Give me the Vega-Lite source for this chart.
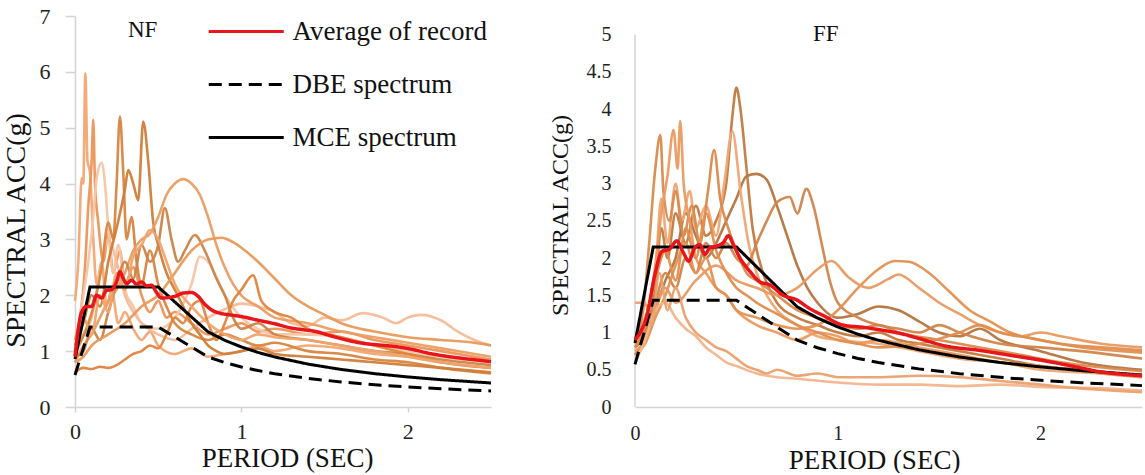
{
"$schema": "https://vega.github.io/schema/vega-lite/v6.json",
"padding": {"left": 2, "top": 5, "right": 0, "bottom": 0},
"background": "white",
"config": {"view": {"stroke": null}, "font": "Liberation Serif", "axis": {"grid": false, "labelFont": "Liberation Serif", "titleFont": "Liberation Serif", "titleFontWeight": "normal", "labelColor": "#222", "titleColor": "#111", "domainColor": "#d4d4d4", "domainWidth": 1.5, "tickColor": "#d4d4d4", "tickWidth": 1.5, "labelFlush": false}, "legend": {"labelFont": "Liberation Serif"}, "title": {"font": "Liberation Serif", "fontWeight": "normal", "fontSize": 23, "color": "#111"}},
"bounds": "flush",
"spacing": 144,
"resolve": {"scale": {"color": "independent", "strokeDash": "independent", "stroke": "independent"}, "legend": {"color": "independent", "strokeDash": "independent", "stroke": "independent"}},
"datasets": {
"nf": [
{"r":"n1","t":0,"v":1.9},{"r":"n1","t":0.02,"v":2.6},{"r":"n1","t":0.04,"v":4.1},{"r":"n1","t":0.05,"v":4.0},{"r":"n1","t":0.062,"v":5.97},{"r":"n1","t":0.075,"v":4.4},{"r":"n1","t":0.09,"v":4.2},{"r":"n1","t":0.11,"v":3.0},{"r":"n1","t":0.13,"v":2.2},{"r":"n1","t":0.16,"v":2.6},{"r":"n1","t":0.19,"v":1.8},{"r":"n1","t":0.22,"v":2.1},{"r":"n1","t":0.26,"v":1.5},{"r":"n1","t":0.3,"v":1.7},{"r":"n1","t":0.35,"v":1.4},{"r":"n1","t":0.4,"v":1.2},{"r":"n1","t":0.45,"v":1.35},{"r":"n1","t":0.5,"v":1.1},{"r":"n1","t":0.6,"v":0.95},{"r":"n1","t":0.7,"v":1.05},{"r":"n1","t":0.8,"v":0.9},{"r":"n1","t":0.9,"v":0.95},{"r":"n1","t":1.0,"v":1.0},{"r":"n1","t":1.1,"v":1.1},{"r":"n1","t":1.2,"v":1.0},{"r":"n1","t":1.4,"v":1.1},{"r":"n1","t":1.6,"v":1.05},{"r":"n1","t":1.8,"v":0.95},{"r":"n1","t":2.0,"v":0.9},{"r":"n1","t":2.2,"v":0.8},{"r":"n1","t":2.5,"v":0.7},
{"r":"n2","t":0,"v":1.2},{"r":"n2","t":0.03,"v":1.6},{"r":"n2","t":0.06,"v":2.5},{"r":"n2","t":0.08,"v":3.6},{"r":"n2","t":0.1,"v":4.4},{"r":"n2","t":0.11,"v":5.14},{"r":"n2","t":0.12,"v":4.0},{"r":"n2","t":0.14,"v":3.3},{"r":"n2","t":0.17,"v":2.6},{"r":"n2","t":0.2,"v":3.1},{"r":"n2","t":0.23,"v":2.4},{"r":"n2","t":0.27,"v":2.8},{"r":"n2","t":0.3,"v":2.2},{"r":"n2","t":0.35,"v":2.5},{"r":"n2","t":0.4,"v":2.0},{"r":"n2","t":0.45,"v":1.7},{"r":"n2","t":0.5,"v":1.9},{"r":"n2","t":0.55,"v":1.6},{"r":"n2","t":0.6,"v":1.7},{"r":"n2","t":0.7,"v":1.5},{"r":"n2","t":0.8,"v":1.3},{"r":"n2","t":0.9,"v":1.4},{"r":"n2","t":1.0,"v":1.5},{"r":"n2","t":1.1,"v":1.35},{"r":"n2","t":1.2,"v":1.4},{"r":"n2","t":1.4,"v":1.3},{"r":"n2","t":1.6,"v":1.35},{"r":"n2","t":1.8,"v":1.2},{"r":"n2","t":2.0,"v":1.1},{"r":"n2","t":2.2,"v":1.0},{"r":"n2","t":2.5,"v":0.85},
{"r":"n3","t":0,"v":1.0},{"r":"n3","t":0.04,"v":1.8},{"r":"n3","t":0.08,"v":2.6},{"r":"n3","t":0.11,"v":3.4},{"r":"n3","t":0.13,"v":4.1},{"r":"n3","t":0.16,"v":4.37},{"r":"n3","t":0.18,"v":4.0},{"r":"n3","t":0.2,"v":3.2},{"r":"n3","t":0.23,"v":2.4},{"r":"n3","t":0.26,"v":2.9},{"r":"n3","t":0.3,"v":2.1},{"r":"n3","t":0.35,"v":1.8},{"r":"n3","t":0.4,"v":1.5},{"r":"n3","t":0.5,"v":1.4},{"r":"n3","t":0.6,"v":1.6},{"r":"n3","t":0.7,"v":2.2},{"r":"n3","t":0.75,"v":2.69},{"r":"n3","t":0.8,"v":2.6},{"r":"n3","t":0.9,"v":2.0},{"r":"n3","t":1.0,"v":1.6},{"r":"n3","t":1.1,"v":1.4},{"r":"n3","t":1.2,"v":1.3},{"r":"n3","t":1.4,"v":1.3},{"r":"n3","t":1.6,"v":1.25},{"r":"n3","t":1.8,"v":1.1},{"r":"n3","t":2.0,"v":1.0},{"r":"n3","t":2.2,"v":0.9},{"r":"n3","t":2.5,"v":0.8},
{"r":"n4","t":0,"v":0.9},{"r":"n4","t":0.05,"v":1.3},{"r":"n4","t":0.1,"v":1.6},{"r":"n4","t":0.15,"v":2.4},{"r":"n4","t":0.2,"v":3.0},{"r":"n4","t":0.25,"v":2.6},{"r":"n4","t":0.3,"v":2.0},{"r":"n4","t":0.35,"v":1.7},{"r":"n4","t":0.4,"v":1.5},{"r":"n4","t":0.5,"v":1.3},{"r":"n4","t":0.6,"v":1.2},{"r":"n4","t":0.7,"v":1.4},{"r":"n4","t":0.8,"v":1.6},{"r":"n4","t":0.9,"v":1.75},{"r":"n4","t":1.0,"v":1.85},{"r":"n4","t":1.1,"v":1.8},{"r":"n4","t":1.2,"v":1.7},{"r":"n4","t":1.3,"v":1.5},{"r":"n4","t":1.4,"v":1.45},{"r":"n4","t":1.5,"v":1.6},{"r":"n4","t":1.6,"v":1.55},{"r":"n4","t":1.73,"v":1.68},{"r":"n4","t":1.85,"v":1.6},{"r":"n4","t":1.93,"v":1.5},{"r":"n4","t":2.0,"v":1.6},{"r":"n4","t":2.08,"v":1.65},{"r":"n4","t":2.2,"v":1.55},{"r":"n4","t":2.3,"v":1.35},{"r":"n4","t":2.4,"v":1.2},{"r":"n4","t":2.5,"v":1.1},
{"r":"n5","t":0,"v":1.0},{"r":"n5","t":0.04,"v":1.2},{"r":"n5","t":0.08,"v":1.5},{"r":"n5","t":0.12,"v":1.9},{"r":"n5","t":0.16,"v":2.5},{"r":"n5","t":0.2,"v":3.3},{"r":"n5","t":0.23,"v":3.0},{"r":"n5","t":0.25,"v":4.0},{"r":"n5","t":0.27,"v":5.2},{"r":"n5","t":0.29,"v":4.2},{"r":"n5","t":0.31,"v":3.0},{"r":"n5","t":0.34,"v":3.4},{"r":"n5","t":0.37,"v":2.6},{"r":"n5","t":0.4,"v":2.2},{"r":"n5","t":0.45,"v":2.8},{"r":"n5","t":0.5,"v":2.2},{"r":"n5","t":0.55,"v":1.8},{"r":"n5","t":0.6,"v":1.5},{"r":"n5","t":0.7,"v":1.3},{"r":"n5","t":0.8,"v":1.2},{"r":"n5","t":0.9,"v":1.3},{"r":"n5","t":1.0,"v":1.2},{"r":"n5","t":1.1,"v":1.1},{"r":"n5","t":1.2,"v":1.15},{"r":"n5","t":1.4,"v":1.0},{"r":"n5","t":1.6,"v":0.95},{"r":"n5","t":1.8,"v":0.85},{"r":"n5","t":2.0,"v":0.8},{"r":"n5","t":2.2,"v":0.7},{"r":"n5","t":2.5,"v":0.6},
{"r":"n6","t":0,"v":1.1},{"r":"n6","t":0.05,"v":1.5},{"r":"n6","t":0.1,"v":2.0},{"r":"n6","t":0.15,"v":1.8},{"r":"n6","t":0.2,"v":2.6},{"r":"n6","t":0.25,"v":3.2},{"r":"n6","t":0.3,"v":3.9},{"r":"n6","t":0.32,"v":4.24},{"r":"n6","t":0.35,"v":4.0},{"r":"n6","t":0.38,"v":3.7},{"r":"n6","t":0.41,"v":5.11},{"r":"n6","t":0.44,"v":4.4},{"r":"n6","t":0.47,"v":3.3},{"r":"n6","t":0.5,"v":2.9},{"r":"n6","t":0.55,"v":2.4},{"r":"n6","t":0.6,"v":2.1},{"r":"n6","t":0.65,"v":1.8},{"r":"n6","t":0.7,"v":1.5},{"r":"n6","t":0.75,"v":1.3},{"r":"n6","t":0.8,"v":1.1},{"r":"n6","t":0.85,"v":1.0},{"r":"n6","t":0.9,"v":0.95},{"r":"n6","t":1.0,"v":1.0},{"r":"n6","t":1.1,"v":1.05},{"r":"n6","t":1.2,"v":0.95},{"r":"n6","t":1.4,"v":0.9},{"r":"n6","t":1.6,"v":0.85},{"r":"n6","t":1.8,"v":0.8},{"r":"n6","t":2.0,"v":0.75},{"r":"n6","t":2.2,"v":0.7},{"r":"n6","t":2.5,"v":0.62},
{"r":"n7","t":0,"v":0.8},{"r":"n7","t":0.05,"v":1.1},{"r":"n7","t":0.1,"v":1.3},{"r":"n7","t":0.15,"v":1.6},{"r":"n7","t":0.2,"v":1.9},{"r":"n7","t":0.25,"v":2.1},{"r":"n7","t":0.3,"v":2.4},{"r":"n7","t":0.35,"v":2.8},{"r":"n7","t":0.4,"v":3.0},{"r":"n7","t":0.45,"v":3.1},{"r":"n7","t":0.5,"v":3.4},{"r":"n7","t":0.55,"v":3.8},{"r":"n7","t":0.6,"v":4.0},{"r":"n7","t":0.65,"v":4.08},{"r":"n7","t":0.7,"v":4.0},{"r":"n7","t":0.75,"v":3.8},{"r":"n7","t":0.8,"v":3.4},{"r":"n7","t":0.85,"v":2.9},{"r":"n7","t":0.9,"v":2.5},{"r":"n7","t":0.95,"v":2.2},{"r":"n7","t":1.0,"v":2.0},{"r":"n7","t":1.1,"v":1.8},{"r":"n7","t":1.2,"v":1.6},{"r":"n7","t":1.4,"v":1.5},{"r":"n7","t":1.6,"v":1.35},{"r":"n7","t":1.8,"v":1.25},{"r":"n7","t":2.0,"v":1.15},{"r":"n7","t":2.2,"v":1.05},{"r":"n7","t":2.5,"v":0.9},
{"r":"n8","t":0,"v":0.9},{"r":"n8","t":0.05,"v":1.0},{"r":"n8","t":0.1,"v":1.4},{"r":"n8","t":0.15,"v":1.2},{"r":"n8","t":0.2,"v":1.7},{"r":"n8","t":0.25,"v":2.2},{"r":"n8","t":0.3,"v":2.6},{"r":"n8","t":0.35,"v":2.3},{"r":"n8","t":0.4,"v":2.9},{"r":"n8","t":0.45,"v":2.6},{"r":"n8","t":0.5,"v":2.9},{"r":"n8","t":0.54,"v":3.56},{"r":"n8","t":0.58,"v":3.0},{"r":"n8","t":0.62,"v":2.6},{"r":"n8","t":0.66,"v":2.8},{"r":"n8","t":0.72,"v":3.08},{"r":"n8","t":0.78,"v":2.8},{"r":"n8","t":0.85,"v":2.3},{"r":"n8","t":0.9,"v":2.0},{"r":"n8","t":0.95,"v":1.6},{"r":"n8","t":1.0,"v":1.4},{"r":"n8","t":1.1,"v":1.5},{"r":"n8","t":1.2,"v":1.3},{"r":"n8","t":1.4,"v":1.2},{"r":"n8","t":1.6,"v":1.1},{"r":"n8","t":1.8,"v":1.0},{"r":"n8","t":2.0,"v":0.95},{"r":"n8","t":2.2,"v":0.85},{"r":"n8","t":2.5,"v":0.75},
{"r":"n9","t":0,"v":0.8},{"r":"n9","t":0.05,"v":0.9},{"r":"n9","t":0.1,"v":1.1},{"r":"n9","t":0.2,"v":1.3},{"r":"n9","t":0.3,"v":1.5},{"r":"n9","t":0.4,"v":1.8},{"r":"n9","t":0.5,"v":2.0},{"r":"n9","t":0.6,"v":2.4},{"r":"n9","t":0.7,"v":2.8},{"r":"n9","t":0.8,"v":3.0},{"r":"n9","t":0.88,"v":3.03},{"r":"n9","t":0.95,"v":2.95},{"r":"n9","t":1.0,"v":2.85},{"r":"n9","t":1.1,"v":2.6},{"r":"n9","t":1.2,"v":2.3},{"r":"n9","t":1.3,"v":2.0},{"r":"n9","t":1.4,"v":1.8},{"r":"n9","t":1.5,"v":1.65},{"r":"n9","t":1.6,"v":1.5},{"r":"n9","t":1.8,"v":1.35},{"r":"n9","t":2.0,"v":1.25},{"r":"n9","t":2.2,"v":1.2},{"r":"n9","t":2.4,"v":1.15},{"r":"n9","t":2.5,"v":1.1},
{"r":"n10","t":0,"v":0.62},{"r":"n10","t":0.05,"v":0.7},{"r":"n10","t":0.1,"v":0.68},{"r":"n10","t":0.15,"v":0.72},{"r":"n10","t":0.2,"v":0.7},{"r":"n10","t":0.25,"v":0.75},{"r":"n10","t":0.3,"v":0.85},{"r":"n10","t":0.35,"v":0.95},{"r":"n10","t":0.4,"v":1.0},{"r":"n10","t":0.45,"v":1.1},{"r":"n10","t":0.5,"v":1.05},{"r":"n10","t":0.55,"v":1.3},{"r":"n10","t":0.6,"v":1.6},{"r":"n10","t":0.65,"v":1.5},{"r":"n10","t":0.7,"v":1.8},{"r":"n10","t":0.75,"v":1.9},{"r":"n10","t":0.8,"v":1.5},{"r":"n10","t":0.85,"v":1.2},{"r":"n10","t":0.9,"v":1.5},{"r":"n10","t":0.95,"v":1.9},{"r":"n10","t":1.0,"v":2.1},{"r":"n10","t":1.07,"v":2.36},{"r":"n10","t":1.12,"v":1.9},{"r":"n10","t":1.2,"v":1.7},{"r":"n10","t":1.3,"v":1.6},{"r":"n10","t":1.4,"v":1.4},{"r":"n10","t":1.6,"v":1.25},{"r":"n10","t":1.8,"v":1.1},{"r":"n10","t":2.0,"v":0.95},{"r":"n10","t":2.2,"v":0.8},{"r":"n10","t":2.5,"v":0.7},
{"r":"n11","t":0,"v":1.2},{"r":"n11","t":0.05,"v":1.6},{"r":"n11","t":0.1,"v":1.3},{"r":"n11","t":0.15,"v":2.0},{"r":"n11","t":0.2,"v":1.7},{"r":"n11","t":0.25,"v":2.4},{"r":"n11","t":0.3,"v":2.1},{"r":"n11","t":0.35,"v":2.7},{"r":"n11","t":0.4,"v":2.9},{"r":"n11","t":0.45,"v":3.17},{"r":"n11","t":0.5,"v":3.0},{"r":"n11","t":0.55,"v":2.6},{"r":"n11","t":0.6,"v":2.2},{"r":"n11","t":0.7,"v":1.8},{"r":"n11","t":0.8,"v":1.5},{"r":"n11","t":0.9,"v":1.3},{"r":"n11","t":1.0,"v":1.2},{"r":"n11","t":1.1,"v":1.3},{"r":"n11","t":1.2,"v":1.25},{"r":"n11","t":1.4,"v":1.2},{"r":"n11","t":1.6,"v":1.1},{"r":"n11","t":1.8,"v":1.0},{"r":"n11","t":2.0,"v":0.9},{"r":"n11","t":2.2,"v":0.8},{"r":"n11","t":2.5,"v":0.7}
],
"ff": [
{"r":"f1","t":0,"v":0.8},{"r":"f1","t":0.05,"v":1.0},{"r":"f1","t":0.1,"v":1.6},{"r":"f1","t":0.13,"v":2.4},{"r":"f1","t":0.16,"v":2.0},{"r":"f1","t":0.2,"v":2.6},{"r":"f1","t":0.25,"v":2.2},{"r":"f1","t":0.3,"v":2.7},{"r":"f1","t":0.35,"v":2.3},{"r":"f1","t":0.4,"v":2.5},{"r":"f1","t":0.45,"v":3.0},{"r":"f1","t":0.48,"v":3.9},{"r":"f1","t":0.5,"v":4.29},{"r":"f1","t":0.52,"v":4.0},{"r":"f1","t":0.55,"v":3.2},{"r":"f1","t":0.58,"v":2.4},{"r":"f1","t":0.62,"v":1.9},{"r":"f1","t":0.66,"v":1.6},{"r":"f1","t":0.7,"v":1.4},{"r":"f1","t":0.8,"v":1.2},{"r":"f1","t":0.9,"v":1.1},{"r":"f1","t":1.0,"v":1.0},{"r":"f1","t":1.1,"v":0.95},{"r":"f1","t":1.2,"v":1.0},{"r":"f1","t":1.3,"v":0.9},{"r":"f1","t":1.4,"v":0.85},{"r":"f1","t":1.6,"v":0.75},{"r":"f1","t":1.8,"v":0.65},{"r":"f1","t":2.0,"v":0.55},{"r":"f1","t":2.2,"v":0.5},{"r":"f1","t":2.5,"v":0.42},
{"r":"f2","t":0,"v":0.7},{"r":"f2","t":0.05,"v":0.9},{"r":"f2","t":0.1,"v":1.3},{"r":"f2","t":0.15,"v":1.7},{"r":"f2","t":0.2,"v":2.0},{"r":"f2","t":0.25,"v":2.6},{"r":"f2","t":0.3,"v":2.3},{"r":"f2","t":0.35,"v":2.0},{"r":"f2","t":0.4,"v":2.2},{"r":"f2","t":0.45,"v":2.5},{"r":"f2","t":0.5,"v":2.8},{"r":"f2","t":0.55,"v":3.1},{"r":"f2","t":0.6,"v":3.13},{"r":"f2","t":0.65,"v":3.05},{"r":"f2","t":0.7,"v":2.7},{"r":"f2","t":0.75,"v":2.3},{"r":"f2","t":0.8,"v":1.9},{"r":"f2","t":0.85,"v":1.6},{"r":"f2","t":0.9,"v":1.4},{"r":"f2","t":1.0,"v":1.2},{"r":"f2","t":1.1,"v":1.25},{"r":"f2","t":1.2,"v":1.35},{"r":"f2","t":1.3,"v":1.3},{"r":"f2","t":1.4,"v":1.15},{"r":"f2","t":1.5,"v":1.0},{"r":"f2","t":1.6,"v":0.95},{"r":"f2","t":1.7,"v":1.05},{"r":"f2","t":1.8,"v":0.9},{"r":"f2","t":2.0,"v":0.75},{"r":"f2","t":2.2,"v":0.6},{"r":"f2","t":2.5,"v":0.5},
{"r":"f3","t":0,"v":0.9},{"r":"f3","t":0.05,"v":1.2},{"r":"f3","t":0.1,"v":1.8},{"r":"f3","t":0.13,"v":2.8},{"r":"f3","t":0.16,"v":2.2},{"r":"f3","t":0.2,"v":3.0},{"r":"f3","t":0.23,"v":2.5},{"r":"f3","t":0.27,"v":2.9},{"r":"f3","t":0.3,"v":2.4},{"r":"f3","t":0.35,"v":2.7},{"r":"f3","t":0.4,"v":2.3},{"r":"f3","t":0.44,"v":3.0},{"r":"f3","t":0.48,"v":3.7},{"r":"f3","t":0.52,"v":2.9},{"r":"f3","t":0.56,"v":2.2},{"r":"f3","t":0.6,"v":1.8},{"r":"f3","t":0.65,"v":1.5},{"r":"f3","t":0.7,"v":1.3},{"r":"f3","t":0.8,"v":1.1},{"r":"f3","t":0.9,"v":0.95},{"r":"f3","t":1.0,"v":0.9},{"r":"f3","t":1.2,"v":0.85},{"r":"f3","t":1.4,"v":0.75},{"r":"f3","t":1.6,"v":0.65},{"r":"f3","t":1.8,"v":0.6},{"r":"f3","t":2.0,"v":0.5},{"r":"f3","t":2.3,"v":0.45},{"r":"f3","t":2.5,"v":0.4},
{"r":"f4","t":0,"v":0.9},{"r":"f4","t":0.04,"v":1.3},{"r":"f4","t":0.07,"v":2.2},{"r":"f4","t":0.1,"v":3.2},{"r":"f4","t":0.125,"v":3.65},{"r":"f4","t":0.14,"v":2.9},{"r":"f4","t":0.17,"v":2.5},{"r":"f4","t":0.2,"v":2.9},{"r":"f4","t":0.24,"v":2.3},{"r":"f4","t":0.28,"v":2.7},{"r":"f4","t":0.32,"v":2.2},{"r":"f4","t":0.36,"v":2.9},{"r":"f4","t":0.39,"v":3.45},{"r":"f4","t":0.42,"v":2.8},{"r":"f4","t":0.46,"v":2.4},{"r":"f4","t":0.5,"v":2.1},{"r":"f4","t":0.55,"v":1.8},{"r":"f4","t":0.6,"v":1.7},{"r":"f4","t":0.7,"v":1.5},{"r":"f4","t":0.8,"v":1.3},{"r":"f4","t":0.9,"v":1.2},{"r":"f4","t":1.0,"v":1.1},{"r":"f4","t":1.1,"v":1.05},{"r":"f4","t":1.2,"v":1.1},{"r":"f4","t":1.3,"v":1.0},{"r":"f4","t":1.5,"v":0.9},{"r":"f4","t":1.7,"v":0.8},{"r":"f4","t":1.9,"v":0.7},{"r":"f4","t":2.1,"v":0.6},{"r":"f4","t":2.5,"v":0.48},
{"r":"f5","t":0,"v":0.85},{"r":"f5","t":0.05,"v":1.1},{"r":"f5","t":0.1,"v":1.9},{"r":"f5","t":0.13,"v":2.6},{"r":"f5","t":0.16,"v":3.1},{"r":"f5","t":0.19,"v":3.72},{"r":"f5","t":0.21,"v":3.2},{"r":"f5","t":0.223,"v":3.84},{"r":"f5","t":0.24,"v":3.0},{"r":"f5","t":0.27,"v":2.5},{"r":"f5","t":0.3,"v":2.0},{"r":"f5","t":0.35,"v":1.8},{"r":"f5","t":0.4,"v":1.6},{"r":"f5","t":0.45,"v":1.5},{"r":"f5","t":0.5,"v":1.3},{"r":"f5","t":0.6,"v":1.1},{"r":"f5","t":0.7,"v":1.0},{"r":"f5","t":0.8,"v":0.9},{"r":"f5","t":0.9,"v":1.0},{"r":"f5","t":1.0,"v":0.95},{"r":"f5","t":1.1,"v":0.85},{"r":"f5","t":1.2,"v":0.9},{"r":"f5","t":1.4,"v":0.8},{"r":"f5","t":1.6,"v":0.7},{"r":"f5","t":1.8,"v":0.6},{"r":"f5","t":2.0,"v":0.55},{"r":"f5","t":2.3,"v":0.45},{"r":"f5","t":2.5,"v":0.4},
{"r":"f6","t":0,"v":0.8},{"r":"f6","t":0.05,"v":1.0},{"r":"f6","t":0.1,"v":1.4},{"r":"f6","t":0.15,"v":1.8},{"r":"f6","t":0.2,"v":1.6},{"r":"f6","t":0.25,"v":2.0},{"r":"f6","t":0.3,"v":1.8},{"r":"f6","t":0.35,"v":2.2},{"r":"f6","t":0.4,"v":2.0},{"r":"f6","t":0.45,"v":2.2},{"r":"f6","t":0.5,"v":2.0},{"r":"f6","t":0.55,"v":1.9},{"r":"f6","t":0.6,"v":2.2},{"r":"f6","t":0.65,"v":2.5},{"r":"f6","t":0.7,"v":2.75},{"r":"f6","t":0.763,"v":2.82},{"r":"f6","t":0.8,"v":2.6},{"r":"f6","t":0.845,"v":2.93},{"r":"f6","t":0.88,"v":2.7},{"r":"f6","t":0.92,"v":2.2},{"r":"f6","t":0.96,"v":1.7},{"r":"f6","t":1.0,"v":1.4},{"r":"f6","t":1.1,"v":1.2},{"r":"f6","t":1.2,"v":1.1},{"r":"f6","t":1.3,"v":1.05},{"r":"f6","t":1.4,"v":1.0},{"r":"f6","t":1.5,"v":1.1},{"r":"f6","t":1.6,"v":1.0},{"r":"f6","t":1.8,"v":0.85},{"r":"f6","t":2.0,"v":0.8},{"r":"f6","t":2.2,"v":0.75},{"r":"f6","t":2.5,"v":0.65},
{"r":"f7","t":0,"v":0.7},{"r":"f7","t":0.05,"v":0.85},{"r":"f7","t":0.1,"v":1.2},{"r":"f7","t":0.15,"v":1.5},{"r":"f7","t":0.2,"v":1.9},{"r":"f7","t":0.25,"v":2.2},{"r":"f7","t":0.3,"v":1.8},{"r":"f7","t":0.35,"v":2.0},{"r":"f7","t":0.4,"v":1.6},{"r":"f7","t":0.45,"v":1.5},{"r":"f7","t":0.5,"v":1.3},{"r":"f7","t":0.6,"v":1.2},{"r":"f7","t":0.7,"v":1.1},{"r":"f7","t":0.8,"v":1.05},{"r":"f7","t":0.9,"v":1.1},{"r":"f7","t":1.0,"v":1.3},{"r":"f7","t":1.1,"v":1.6},{"r":"f7","t":1.2,"v":1.85},{"r":"f7","t":1.28,"v":1.96},{"r":"f7","t":1.35,"v":1.95},{"r":"f7","t":1.45,"v":1.8},{"r":"f7","t":1.55,"v":1.55},{"r":"f7","t":1.65,"v":1.3},{"r":"f7","t":1.75,"v":1.15},{"r":"f7","t":1.85,"v":1.0},{"r":"f7","t":2.0,"v":0.9},{"r":"f7","t":2.2,"v":0.8},{"r":"f7","t":2.4,"v":0.75},{"r":"f7","t":2.5,"v":0.73},
{"r":"f8","t":0,"v":0.75},{"r":"f8","t":0.05,"v":0.9},{"r":"f8","t":0.1,"v":1.3},{"r":"f8","t":0.15,"v":1.6},{"r":"f8","t":0.2,"v":1.4},{"r":"f8","t":0.3,"v":1.7},{"r":"f8","t":0.4,"v":1.9},{"r":"f8","t":0.5,"v":1.7},{"r":"f8","t":0.6,"v":1.6},{"r":"f8","t":0.7,"v":1.5},{"r":"f8","t":0.8,"v":1.6},{"r":"f8","t":0.9,"v":1.85},{"r":"f8","t":0.97,"v":1.96},{"r":"f8","t":1.05,"v":1.75},{"r":"f8","t":1.15,"v":1.6},{"r":"f8","t":1.25,"v":1.72},{"r":"f8","t":1.3,"v":1.78},{"r":"f8","t":1.4,"v":1.6},{"r":"f8","t":1.5,"v":1.4},{"r":"f8","t":1.6,"v":1.25},{"r":"f8","t":1.7,"v":1.1},{"r":"f8","t":1.8,"v":1.0},{"r":"f8","t":1.9,"v":0.95},{"r":"f8","t":2.0,"v":1.0},{"r":"f8","t":2.1,"v":0.95},{"r":"f8","t":2.3,"v":0.85},{"r":"f8","t":2.5,"v":0.8},
{"r":"f9","t":0,"v":0.6},{"r":"f9","t":0.05,"v":0.9},{"r":"f9","t":0.1,"v":1.3},{"r":"f9","t":0.15,"v":1.4},{"r":"f9","t":0.2,"v":1.2},{"r":"f9","t":0.25,"v":1.05},{"r":"f9","t":0.3,"v":0.95},{"r":"f9","t":0.35,"v":0.8},{"r":"f9","t":0.4,"v":0.7},{"r":"f9","t":0.45,"v":0.6},{"r":"f9","t":0.5,"v":0.55},{"r":"f9","t":0.6,"v":0.45},{"r":"f9","t":0.7,"v":0.4},{"r":"f9","t":0.8,"v":0.38},{"r":"f9","t":1.0,"v":0.33},{"r":"f9","t":1.2,"v":0.3},{"r":"f9","t":1.4,"v":0.3},{"r":"f9","t":1.6,"v":0.28},{"r":"f9","t":1.8,"v":0.3},{"r":"f9","t":2.0,"v":0.27},{"r":"f9","t":2.3,"v":0.25},{"r":"f9","t":2.5,"v":0.22},
{"r":"f10","t":0,"v":1.4},{"r":"f10","t":0.05,"v":1.4},{"r":"f10","t":0.08,"v":1.1},{"r":"f10","t":0.12,"v":1.8},{"r":"f10","t":0.16,"v":1.3},{"r":"f10","t":0.2,"v":1.6},{"r":"f10","t":0.25,"v":1.2},{"r":"f10","t":0.3,"v":1.0},{"r":"f10","t":0.35,"v":0.9},{"r":"f10","t":0.4,"v":0.8},{"r":"f10","t":0.45,"v":0.75},{"r":"f10","t":0.5,"v":0.65},{"r":"f10","t":0.55,"v":0.55},{"r":"f10","t":0.6,"v":0.5},{"r":"f10","t":0.65,"v":0.45},{"r":"f10","t":0.7,"v":0.5},{"r":"f10","t":0.8,"v":0.42},{"r":"f10","t":0.9,"v":0.45},{"r":"f10","t":1.0,"v":0.4},{"r":"f10","t":1.2,"v":0.4},{"r":"f10","t":1.4,"v":0.42},{"r":"f10","t":1.6,"v":0.4},{"r":"f10","t":1.8,"v":0.35},{"r":"f10","t":2.0,"v":0.3},{"r":"f10","t":2.2,"v":0.25},{"r":"f10","t":2.5,"v":0.2},
{"r":"f11","t":0,"v":0.8},{"r":"f11","t":0.05,"v":1.1},{"r":"f11","t":0.1,"v":1.7},{"r":"f11","t":0.15,"v":2.1},{"r":"f11","t":0.2,"v":1.7},{"r":"f11","t":0.25,"v":2.4},{"r":"f11","t":0.3,"v":2.0},{"r":"f11","t":0.35,"v":2.6},{"r":"f11","t":0.4,"v":2.1},{"r":"f11","t":0.45,"v":1.8},{"r":"f11","t":0.5,"v":1.6},{"r":"f11","t":0.55,"v":1.5},{"r":"f11","t":0.6,"v":1.4},{"r":"f11","t":0.7,"v":1.25},{"r":"f11","t":0.8,"v":1.1},{"r":"f11","t":0.9,"v":1.0},{"r":"f11","t":1.0,"v":0.9},{"r":"f11","t":1.1,"v":0.85},{"r":"f11","t":1.2,"v":0.8},{"r":"f11","t":1.4,"v":0.85},{"r":"f11","t":1.6,"v":1.0},{"r":"f11","t":1.7,"v":1.1},{"r":"f11","t":1.8,"v":1.0},{"r":"f11","t":1.9,"v":0.95},{"r":"f11","t":2.1,"v":0.85},{"r":"f11","t":2.3,"v":0.8},{"r":"f11","t":2.5,"v":0.76}
],
"spec": [
{"s":"MCE spectrum","t":0,"v":0.86},{"s":"MCE spectrum","t":0.09,"v":2.15},{"s":"MCE spectrum","t":0.5,"v":2.15},{"s":"MCE spectrum","t":0.8,"v":1.344},{"s":"MCE spectrum","t":0.9,"v":1.194},{"s":"MCE spectrum","t":1.0,"v":1.075},{"s":"MCE spectrum","t":1.1,"v":0.977},{"s":"MCE spectrum","t":1.2,"v":0.896},{"s":"MCE spectrum","t":1.4,"v":0.768},{"s":"MCE spectrum","t":1.6,"v":0.672},{"s":"MCE spectrum","t":1.8,"v":0.597},{"s":"MCE spectrum","t":2.0,"v":0.538},{"s":"MCE spectrum","t":2.2,"v":0.489},{"s":"MCE spectrum","t":2.5,"v":0.43},
{"s":"DBE spectrum","t":0,"v":0.573},{"s":"DBE spectrum","t":0.09,"v":1.433},{"s":"DBE spectrum","t":0.5,"v":1.433},{"s":"DBE spectrum","t":0.8,"v":0.896},{"s":"DBE spectrum","t":0.9,"v":0.796},{"s":"DBE spectrum","t":1.0,"v":0.717},{"s":"DBE spectrum","t":1.1,"v":0.652},{"s":"DBE spectrum","t":1.2,"v":0.597},{"s":"DBE spectrum","t":1.4,"v":0.512},{"s":"DBE spectrum","t":1.6,"v":0.448},{"s":"DBE spectrum","t":1.8,"v":0.398},{"s":"DBE spectrum","t":2.0,"v":0.358},{"s":"DBE spectrum","t":2.2,"v":0.326},{"s":"DBE spectrum","t":2.5,"v":0.287}
],
"nfavg": [
{"s":"Average of record","t":0,"v":0.9},{"s":"Average of record","t":0.04,"v":1.7},{"s":"Average of record","t":0.07,"v":1.8},{"s":"Average of record","t":0.1,"v":1.8},{"s":"Average of record","t":0.13,"v":2.0},{"s":"Average of record","t":0.16,"v":1.95},{"s":"Average of record","t":0.19,"v":2.09},{"s":"Average of record","t":0.22,"v":2.1},{"s":"Average of record","t":0.25,"v":2.25},{"s":"Average of record","t":0.27,"v":2.42},{"s":"Average of record","t":0.29,"v":2.3},{"s":"Average of record","t":0.31,"v":2.21},{"s":"Average of record","t":0.34,"v":2.27},{"s":"Average of record","t":0.37,"v":2.2},{"s":"Average of record","t":0.4,"v":2.24},{"s":"Average of record","t":0.43,"v":2.17},{"s":"Average of record","t":0.46,"v":2.18},{"s":"Average of record","t":0.49,"v":2.05},{"s":"Average of record","t":0.52,"v":1.95},{"s":"Average of record","t":0.56,"v":1.96},{"s":"Average of record","t":0.6,"v":1.98},{"s":"Average of record","t":0.65,"v":2.04},{"s":"Average of record","t":0.7,"v":2.05},{"s":"Average of record","t":0.74,"v":1.98},{"s":"Average of record","t":0.78,"v":1.84},{"s":"Average of record","t":0.82,"v":1.74},{"s":"Average of record","t":0.87,"v":1.68},{"s":"Average of record","t":0.93,"v":1.65},{"s":"Average of record","t":1.0,"v":1.62},{"s":"Average of record","t":1.09,"v":1.56},{"s":"Average of record","t":1.2,"v":1.49},{"s":"Average of record","t":1.29,"v":1.42},{"s":"Average of record","t":1.38,"v":1.38},{"s":"Average of record","t":1.45,"v":1.35},{"s":"Average of record","t":1.53,"v":1.28},{"s":"Average of record","t":1.63,"v":1.2},{"s":"Average of record","t":1.73,"v":1.14},{"s":"Average of record","t":1.83,"v":1.11},{"s":"Average of record","t":1.93,"v":1.08},{"s":"Average of record","t":2.03,"v":1.03},{"s":"Average of record","t":2.13,"v":0.96},{"s":"Average of record","t":2.23,"v":0.91},{"s":"Average of record","t":2.33,"v":0.87},{"s":"Average of record","t":2.42,"v":0.84},{"s":"Average of record","t":2.5,"v":0.81}
],
"ffavg": [
{"s":"Average of record","t":0,"v":0.9},{"s":"Average of record","t":0.06,"v":1.25},{"s":"Average of record","t":0.1,"v":1.8},{"s":"Average of record","t":0.133,"v":2.09},{"s":"Average of record","t":0.17,"v":2.12},{"s":"Average of record","t":0.206,"v":2.23},{"s":"Average of record","t":0.239,"v":2.07},{"s":"Average of record","t":0.264,"v":1.96},{"s":"Average of record","t":0.296,"v":2.14},{"s":"Average of record","t":0.32,"v":2.18},{"s":"Average of record","t":0.345,"v":2.05},{"s":"Average of record","t":0.37,"v":2.14},{"s":"Average of record","t":0.403,"v":2.16},{"s":"Average of record","t":0.436,"v":2.21},{"s":"Average of record","t":0.46,"v":2.3},{"s":"Average of record","t":0.485,"v":2.18},{"s":"Average of record","t":0.518,"v":2.0},{"s":"Average of record","t":0.567,"v":1.82},{"s":"Average of record","t":0.616,"v":1.68},{"s":"Average of record","t":0.665,"v":1.64},{"s":"Average of record","t":0.73,"v":1.5},{"s":"Average of record","t":0.796,"v":1.44},{"s":"Average of record","t":0.862,"v":1.32},{"s":"Average of record","t":0.927,"v":1.23},{"s":"Average of record","t":1.025,"v":1.1},{"s":"Average of record","t":1.124,"v":1.07},{"s":"Average of record","t":1.222,"v":1.03},{"s":"Average of record","t":1.32,"v":0.98},{"s":"Average of record","t":1.4,"v":0.92},{"s":"Average of record","t":1.53,"v":0.82},{"s":"Average of record","t":1.7,"v":0.76},{"s":"Average of record","t":1.86,"v":0.69},{"s":"Average of record","t":2.02,"v":0.62},{"s":"Average of record","t":2.19,"v":0.53},{"s":"Average of record","t":2.3,"v":0.47},{"s":"Average of record","t":2.4,"v":0.44},{"s":"Average of record","t":2.5,"v":0.42}
]
},
"hconcat": [
{
"width": 416, "height": 391,
"title": {"text": "NF", "anchor": "start", "frame": "group", "dx": 53, "offset": -37, "fontSize": 23, "font": "Liberation Serif", "fontWeight": "normal", "color": "#111"},
"encoding": {
"x": {"field": "t", "type": "quantitative", "scale": {"domain": [0, 2.5], "nice": false}, "axis": {"values": [0, 1, 2], "labelExpr": "'' + datum.value", "labelFlush": false, "tickSize": 5, "labelPadding": 9, "labelFontSize": 22, "labelFont": "Liberation Serif", "title": "PERIOD (SEC)", "titleFont": "Liberation Serif", "titleFontSize": 27, "titlePadding": 3, "titleX": 212}},
"y": {"field": "v", "type": "quantitative", "scale": {"domain": [0, 7], "nice": false}, "axis": {"values": [0, 1, 2, 3, 4, 5, 6, 7], "labelExpr": "'' + datum.value", "tickSize": 10, "labelPadding": 15, "labelFontSize": 22, "labelFont": "Liberation Serif", "title": "SPECTRAL ACC(g)", "titleFont": "Liberation Serif", "titleFontSize": 28, "titlePadding": 9, "titleY": 214}}
},
"layer": [
{"data": {"name": "nf"}, "mark": {"type": "line", "interpolate": "monotone", "strokeWidth": 2.6, "opacity": 0.95},
 "encoding": {"stroke": {"field": "r", "type": "nominal", "legend": null, "scale": {"domain": ["n1","n2","n3","n4","n5","n6","n7","n8","n9","n10","n11"], "range": ["#f2a772","#eb9558","#f7c6a8","#f5bc98","#d9853f","#d17d38","#eb9d62","#cc8447","#e8995a","#e0853f","#efa46e"]}}}},
{"data": {"name": "spec"}, "mark": {"type": "line", "strokeWidth": 3},
 "encoding": {
  "color": {"field": "s", "type": "nominal", "scale": {"domain": ["Average of record", "DBE spectrum", "MCE spectrum"], "range": ["#e8161b", "#000000", "#000000"]}, "legend": {"orient": "none", "legendX": 169.5, "legendY": -5, "title": null, "symbolType": "M-3,0H1", "symbolSize": 1406, "symbolStrokeWidth": 3, "labelFont": "Liberation Serif", "labelFontSize": 27, "labelColor": "#111", "labelOffset": 7, "labelLimit": 400, "rowPadding": 19, "padding": 0, "labelExpr": "datum.label == 'MCE spectrum' ? '\u2002MCE spectrum' : datum.label"}},
  "strokeDash": {"field": "s", "type": "nominal", "scale": {"domain": ["Average of record", "DBE spectrum", "MCE spectrum"], "range": [[1, 0], [13, 7], [1, 0]]}, "legend": {"orient": "none", "legendX": 169.5, "legendY": -5, "title": null, "symbolType": "M-3,0H1", "symbolSize": 1406, "symbolStrokeWidth": 3, "labelFont": "Liberation Serif", "labelFontSize": 27, "labelColor": "#111", "labelOffset": 7, "labelLimit": 400, "rowPadding": 19, "padding": 0, "labelExpr": "datum.label == 'MCE spectrum' ? '\u2002MCE spectrum' : datum.label"}}}},
{"data": {"name": "nfavg"}, "mark": {"type": "line", "interpolate": "monotone", "strokeWidth": 3.5},
 "encoding": {
  "color": {"field": "s", "type": "nominal"},
  "strokeDash": {"field": "s", "type": "nominal"}}}
]
},
{
"width": 507, "height": 391,
"title": {"text": "FF", "anchor": "start", "frame": "group", "dx": 178, "offset": -30, "fontSize": 23, "font": "Liberation Serif", "fontWeight": "normal", "color": "#111"},
"layer": [
{"data": {"values": [{"lab": "axis"}]}, "mark": {"type": "rule", "color": "#d4d4d4", "strokeWidth": 1.5},
 "encoding": {
  "x": {"datum": 0, "type": "quantitative", "scale": {"domain": [0, 2.5], "nice": false}, "axis": {"values": [0, 1, 2], "labelExpr": "'' + datum.value", "labelFlush": false, "ticks": false, "tickSize": 0, "labelPadding": 16, "labelFontSize": 20, "labelFont": "Liberation Serif", "title": "PERIOD (SEC)", "titleFont": "Liberation Serif", "titleFontSize": 27, "titlePadding": 4, "titleX": 239}},
  "y": {"datum": 0, "type": "quantitative", "scale": {"domain": [0, 5.25], "nice": false}, "axis": {"values": [0, 0.5, 1, 1.5, 2, 2.5, 3, 3.5, 4, 4.5, 5], "labelExpr": "'' + datum.value", "domain": false, "ticks": false, "tickSize": 0, "labelPadding": 24, "labelFontSize": 20, "labelFont": "Liberation Serif", "title": "SPECTRAL ACC(g)", "titleFont": "Liberation Serif", "titleFontSize": 24, "titlePadding": 14, "titleY": 199}},
  "y2": {"datum": 5}}},
{
"encoding": {
  "x": {"field": "t", "type": "quantitative", "scale": {"domain": [0, 2.5], "nice": false}, "axis": {"values": [0, 1, 2], "labelExpr": "'' + datum.value", "labelFlush": false, "ticks": false, "tickSize": 0, "labelPadding": 16, "labelFontSize": 20, "labelFont": "Liberation Serif", "title": "PERIOD (SEC)", "titleFont": "Liberation Serif", "titleFontSize": 27, "titlePadding": 4, "titleX": 239}},
  "y": {"field": "v", "type": "quantitative", "scale": {"domain": [0, 5.25], "nice": false}, "axis": {"values": [0, 0.5, 1, 1.5, 2, 2.5, 3, 3.5, 4, 4.5, 5], "labelExpr": "'' + datum.value", "domain": false, "ticks": false, "tickSize": 0, "labelPadding": 24, "labelFontSize": 20, "labelFont": "Liberation Serif", "title": "SPECTRAL ACC(g)", "titleFont": "Liberation Serif", "titleFontSize": 24, "titlePadding": 14, "titleY": 199}}
},
"layer": [
{"data": {"name": "ff"}, "mark": {"type": "line", "interpolate": "monotone", "strokeWidth": 2.6, "opacity": 0.95},
 "encoding": {"stroke": {"field": "r", "type": "nominal", "legend": null, "scale": {"domain": ["f1","f2","f3","f4","f5","f6","f7","f8","f9","f10","f11"], "range": ["#c27a3e","#b5743f","#f0a674","#d98a4c","#eb9a60","#d2844a","#e39152","#e89a62","#f4b48c","#eba06e","#e08d4f"]}}}},
{"data": {"name": "spec"}, "mark": {"type": "line", "strokeWidth": 3},
 "encoding": {
  "color": {"field": "s", "type": "nominal", "scale": {"domain": ["Average of record", "DBE spectrum", "MCE spectrum"], "range": ["#e8161b", "#000000", "#000000"]}, "legend": null},
  "strokeDash": {"field": "s", "type": "nominal", "scale": {"domain": ["Average of record", "DBE spectrum", "MCE spectrum"], "range": [[1, 0], [13, 7], [1, 0]]}, "legend": null}}},
{"data": {"name": "ffavg"}, "mark": {"type": "line", "interpolate": "monotone", "strokeWidth": 3.5},
 "encoding": {
  "color": {"field": "s", "type": "nominal", "legend": null},
  "strokeDash": {"field": "s", "type": "nominal", "legend": null}}}
]
}
]
}
]
}
